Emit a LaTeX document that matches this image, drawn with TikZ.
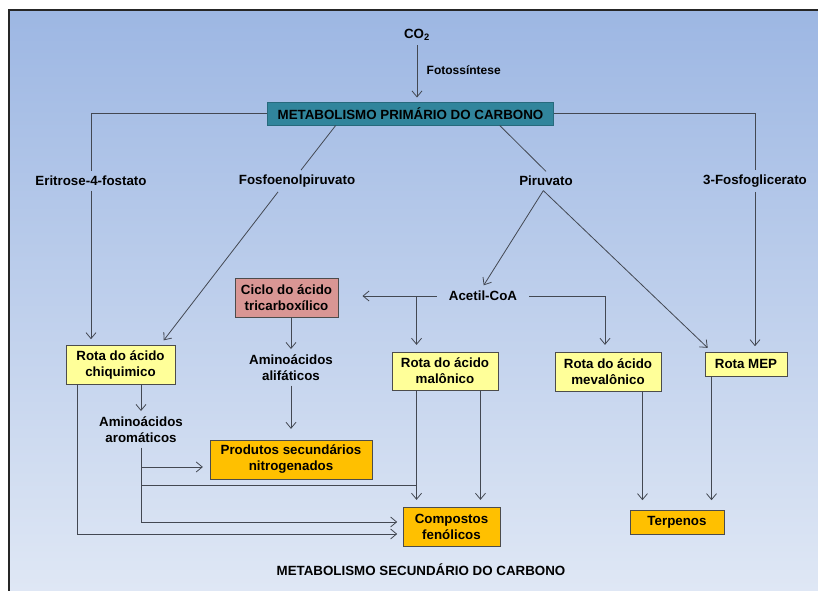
\documentclass[tikz,border=0pt]{standalone}
\usepackage{fontspec}
\setmainfont{Liberation Sans}
\usetikzlibrary{arrows.meta}

\definecolor{fundo_topo}{HTML}{9DB7E3}
\definecolor{fundo_base}{HTML}{E0E8F5}
\definecolor{linha}{HTML}{434852}
\definecolor{verde_agua}{HTML}{31859C}
\definecolor{salmao}{HTML}{D99694}
\definecolor{amarelo}{HTML}{FFFF99}
\definecolor{laranja}{HTML}{FFC000}

\begin{document}
\begin{tikzpicture}[x=0.75pt,y=-0.75pt,
    font=\fontsize{10}{12}\selectfont\bfseries,
    conn/.style={draw=linha,line width=0.6pt},
    arr/.style={conn,-{Straight Barb[length=4.5pt,width=7.5pt]},shorten >=4pt},
    txt/.style={align=center},
    caixa/.style={draw=black!70,line width=0.7pt,align=center,inner sep=0pt},
    rota/.style={caixa,fill=amarelo},
    produto/.style={caixa,fill=laranja}]
    \useasboundingbox (0,0) rectangle (818,590);
    % fundo e moldura
    \shade[top color=fundo_topo,bottom color=fundo_base] (9,10) rectangle (830,600);
    \draw[line width=1.4pt,black!85] (9,600) -- (9,10) -- (830,10);

    % metabolismo primario
    \node[txt] (co2) at (417,35) {CO\textsubscript{2}};
    \node[anchor=west,font=\fontsize{9}{11}\selectfont\bfseries] (fotossintese) at (422,70) {Fotossíntese};
    \node[caixa,fill=verde_agua,draw=verde_agua!80!black,minimum width=215pt,minimum height=17.25pt]
        (met_prim) at (410.5,113.5) {METABOLISMO PRIMÁRIO DO CARBONO};
    \node[txt] (eritrose)  at (91,181)  {Eritrose-4-fostato};
    \node[txt] (fosfoenol) at (297,181) {Fosfoenolpiruvato};
    \node[txt] (piruvato)  at (546,181) {Piruvato};
    \node[txt] (fosfoglic) at (755,181) {3-Fosfoglicerato};

    % rotas
    \node[caixa,fill=salmao,minimum width=77.25pt,minimum height=29.25pt]
        (ciclo) at (286.5,297.5) {Ciclo do ácido\\tricarboxílico};
    \node[txt,inner xsep=9pt] (acetil) at (483,296) {Acetil-CoA};
    \node[rota,minimum width=81.75pt,minimum height=29.25pt] (chiquimico) at (120.5,364.5) {Rota do ácido\\chiquimico};
    \node[rota,minimum width=79.5pt,minimum height=28.5pt]   (malonico)   at (445,371)     {Rota do ácido\\malônico};
    \node[rota,minimum width=79.5pt,minimum height=29.25pt]  (mevalonico) at (608,371.5)   {Rota do ácido\\mevalônico};
    \node[rota,minimum width=61.5pt,minimum height=18pt]     (mep)        at (746,364)     {Rota MEP};
    \node[txt] (alifaticos) at (291,368) {Aminoácidos\\alifáticos};
    \node[txt] (aromaticos) at (141,430) {Aminoácidos\\aromáticos};

    % produtos secundarios
    \node[produto,minimum width=121.5pt,minimum height=29.25pt] (nitrogenados) at (291,459.5) {Produtos secundários\\nitrogenados};
    \node[produto,minimum width=72.75pt,minimum height=29.25pt] (fenolicos)    at (451.5,526.5) {Compostos\\fenólicos};
    \node[produto,minimum width=70.5pt,minimum height=18pt]     (terpenos)     at (677,522)     {Terpenos};
    \node[txt] (met_sec) at (421,570) {METABOLISMO SECUNDÁRIO DO CARBONO};

    % pontos auxiliares
    \coordinate (e_ciclo)   at ([xshift=18pt]ciclo.east);
    \coordinate (ramo_mal)  at ([xshift=18.75pt]malonico.north west);
    \coordinate (ramo_mal2) at ([xshift=-13.5pt]malonico.south east);
    \coordinate (ramo_mev)  at ([xshift=-14.25pt]mevalonico.south east);
    \coordinate (ramo_mep)  at ([xshift=5.25pt]mep.south west);
    \coordinate (ramo_chi)  at ([xshift=9pt]chiquimico.south west);
    \coordinate (e_nitro)   at ([yshift=-5.6pt]nitrogenados.west);
    \coordinate (j_arom)    at ([yshift=-4.5pt]nitrogenados.south);
    \coordinate (e_fen1)    at ([yshift=3.4pt]fenolicos.west);
    \coordinate (e_fen2)    at ([yshift=-5.6pt]fenolicos.west);

    % ligacoes
    \draw[arr,shorten >=3pt] (co2.south) -- (co2.south |- met_prim.north);
    \draw[conn] (met_prim.west) -| (eritrose.north);
    \draw[conn] (met_prim.east) -| (fosfoglic.north);
    \draw[conn] ([xshift=51.75pt]met_prim.south west) -- ([xshift=3pt]fosfoenol.north);
    \draw[conn] ([xshift=174.75pt]met_prim.south west) -- (piruvato.north);
    \path[every edge/.style={arr}]
    (eritrose.south) edge (eritrose.south |- chiquimico.north)
    ([xshift=-14.25pt]fosfoenol.south) edge ([xshift=-11.25pt]chiquimico.north east)
    ([xshift=-2pt]piruvato.south) edge[shorten >=1pt] (acetil.north)
    ([xshift=-2pt]piruvato.south) edge ([xshift=5.25pt]mep.north west)
    (fosfoglic.south) edge (fosfoglic.south |- mep.north)
    (acetil.west) edge[shorten >=0pt] (acetil.west -| e_ciclo)
    (ramo_mal |- acetil.west) edge[shorten >=5pt] (ramo_mal)
    (alifaticos.north |- ciclo.south) edge[shorten >=1pt] (alifaticos.north)
    (aromaticos.north |- chiquimico.south) edge[shorten >=1pt] (aromaticos.north)
    (alifaticos.south) edge[shorten >=8pt] (nitrogenados.north)
    (aromaticos.south |- e_nitro) edge[shorten >=5pt] (e_nitro)
    (ramo_mal |- malonico.south) edge[shorten >=5pt] (ramo_mal |- fenolicos.north)
    (ramo_mal2) edge[shorten >=5pt] (ramo_mal2 |- fenolicos.north)
    (ramo_mev) edge[shorten >=7pt] (ramo_mev |- terpenos.north)
    (ramo_mep) edge[shorten >=7pt] (ramo_mep |- terpenos.north)
    ; %fim das ligacoes
    \draw[arr,shorten >=5pt] (acetil.east) -| ([xshift=-2.25pt]mevalonico.north);
    \draw[arr] (ramo_chi |- chiquimico.south) |- (e_fen2);
    \draw[arr] (aromaticos.south) |- (e_fen1);
    \draw[conn] (aromaticos.south |- j_arom) -- (ramo_mal |- j_arom);
\end{tikzpicture}
\end{document}
